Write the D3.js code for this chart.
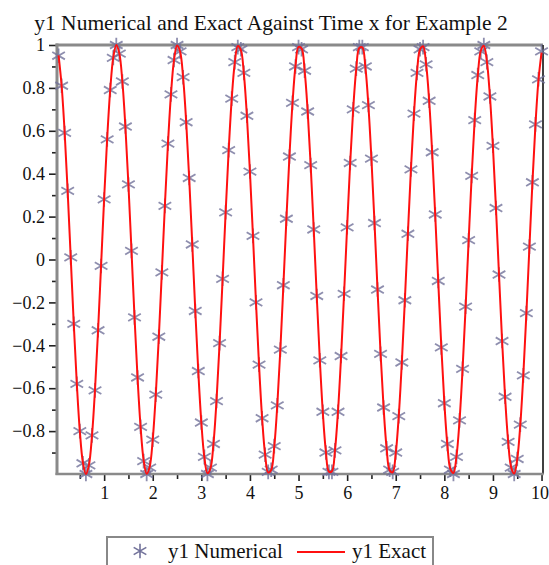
<!DOCTYPE html>
<html>
<head>
<meta charset="utf-8">
<script src="https://cdn.jsdelivr.net/npm/d3@7"></script>
<style>
body { margin: 0; background: #fff; }
svg { display: block; font-family: "Liberation Serif", "Times New Roman", serif; }
</style>
</head>
<body>
<div id="chart"></div>
<script>
// time grid of the numerical solution
var timeX = [
  0.0625,0.125,0.1875,0.25,0.3125,0.375,0.4375,0.5,0.5625,0.625,0.6875,0.75,0.8125,0.875,0.9375,1,
  1.0625,1.125,1.1875,1.25,1.3125,1.375,1.4375,1.5,1.5625,1.625,1.6875,1.75,1.8125,1.875,1.9375,2,
  2.0625,2.125,2.1875,2.25,2.3125,2.375,2.4375,2.5,2.5625,2.625,2.6875,2.75,2.8125,2.875,2.9375,3,
  3.0625,3.125,3.1875,3.25,3.3125,3.375,3.4375,3.5,3.5625,3.625,3.6875,3.75,3.8125,3.875,3.9375,4,
  4.0625,4.125,4.1875,4.25,4.3125,4.375,4.4375,4.5,4.5625,4.625,4.6875,4.75,4.8125,4.875,4.9375,5,
  5.0625,5.125,5.1875,5.25,5.3125,5.375,5.4375,5.5,5.5625,5.625,5.6875,5.75,5.8125,5.875,5.9375,6,
  6.0625,6.125,6.1875,6.25,6.3125,6.375,6.4375,6.5,6.5625,6.625,6.6875,6.75,6.8125,6.875,6.9375,7,
  7.0625,7.125,7.1875,7.25,7.3125,7.375,7.4375,7.5,7.5625,7.625,7.6875,7.75,7.8125,7.875,7.9375,8,
  8.0625,8.125,8.1875,8.25,8.3125,8.375,8.4375,8.5,8.5625,8.625,8.6875,8.75,8.8125,8.875,8.9375,9,
  9.0625,9.125,9.1875,9.25,9.3125,9.375,9.4375,9.5,9.5625,9.625,9.6875,9.75,9.8125,9.875,9.9375,10
];

var numericalY = [
  0.95,0.81,0.59,0.32,0.01,-0.30,-0.58,-0.80,-0.95,-1.00,-0.96,-0.82,-0.61,-0.33,-0.03,0.28,0.56,0.79,0.94,1.00,
  0.96,0.83,0.62,0.35,0.04,-0.27,-0.55,-0.78,-0.94,-1.00,-0.97,-0.84,-0.63,-0.36,-0.06,0.25,0.54,0.77,0.93,1.00,
  0.97,0.85,0.64,0.38,0.07,-0.24,-0.52,-0.76,-0.92,-1.00,-0.97,-0.86,-0.66,-0.39,-0.09,0.22,0.51,0.75,0.92,0.99,
  0.98,0.87,0.67,0.41,0.11,-0.20,-0.49,-0.74,-0.91,-0.99,-0.98,-0.87,-0.68,-0.42,-0.12,0.19,0.48,0.73,0.90,0.99,
  0.98,0.88,0.69,0.44,0.14,-0.17,-0.47,-0.71,-0.90,-0.99,-0.99,-0.89,-0.71,-0.45,-0.16,0.15,0.45,0.70,0.89,0.99,
  0.99,0.90,0.72,0.47,0.17,-0.14,-0.44,-0.69,-0.88,-0.98,-0.99,-0.90,-0.73,-0.48,-0.19,0.12,0.42,0.68,0.87,0.98,
  0.99,0.91,0.74,0.50,0.21,-0.10,-0.41,-0.67,-0.86,-0.98,-1.00,-0.92,-0.75,-0.51,-0.22,0.09,0.39,0.65,0.86,0.97,
  1.00,0.92,0.76,0.53,0.24,-0.07,-0.38,-0.64,-0.85,-0.97,-1.00,-0.93,-0.77,-0.54,-0.25,0.06,0.36,0.63,0.84,0.97
];

var exactY = [
  0.952,0.811,0.592,0.315,0.008,-0.300,-0.578,-0.801,-0.946,-1.000,-0.957,-0.821,-0.605,-0.331,-0.025,0.284,0.565,0.791,0.941,1.000,
  0.961,0.830,0.618,0.347,0.042,-0.268,-0.551,-0.781,-0.935,-0.999,-0.966,-0.839,-0.631,-0.362,-0.058,0.252,0.537,0.770,0.929,0.998,
  0.970,0.848,0.644,0.378,0.075,-0.236,-0.523,-0.760,-0.923,-0.997,-0.974,-0.857,-0.657,-0.393,-0.091,0.219,0.509,0.749,0.916,0.995,
  0.977,0.865,0.669,0.408,0.108,-0.203,-0.494,-0.738,-0.910,-0.993,-0.981,-0.873,-0.681,-0.423,-0.124,0.187,0.480,0.726,0.903,0.991,
  0.984,0.881,0.693,0.438,0.141,-0.171,-0.465,-0.715,-0.895,-0.989,-0.987,-0.889,-0.705,-0.453,-0.157,0.154,0.451,0.703,0.888,0.986,
  0.989,0.897,0.717,0.468,0.173,-0.138,-0.436,-0.691,-0.880,-0.983,-0.992,-0.904,-0.728,-0.482,-0.190,0.121,0.421,0.679,0.872,0.980,
  0.994,0.911,0.740,0.497,0.206,-0.105,-0.406,-0.667,-0.864,-0.977,-0.995,-0.917,-0.751,-0.511,-0.222,0.088,0.390,0.655,0.855,0.973,
  0.997,0.924,0.762,0.525,0.238,-0.072,-0.375,-0.642,-0.847,-0.969,-0.998,-0.930,-0.772,-0.539,-0.254,0.055,0.360,0.629,0.838,0.965
];

var xTicks = [1, 2, 3, 4, 5, 6, 7, 8, 9, 10];
var xMinorTicks = [0.5, 1.5, 2.5, 3.5, 4.5, 5.5, 6.5, 7.5, 8.5, 9.5];
var yTicks = [1, 0.8, 0.6, 0.4, 0.2, 0, -0.2, -0.4, -0.6, -0.8];
var yMinorTicks = [0.9, 0.7, 0.5, 0.3, 0.1, -0.1, -0.3, -0.5, -0.7, -0.9];
var seriesNames = ["y1 Numerical", "y1 Exact"];
var chartTitle = "y1 Numerical and Exact Against Time x for Example 2";

var width = 549, height = 565;
var plotLeft = 57, plotRight = 543, plotTop = 45, plotBottom = 474;

var svg = d3.select("#chart").append("svg")
    .attr("width", width)
    .attr("height", height);

var x = d3.scaleLinear().domain([0.03, 10.03]).range([plotLeft, plotRight]);
var y = d3.scaleLinear().domain([-1, 1]).range([plotBottom, plotTop]);

var starColor = "#72729a";
var star = d3.symbol(d3.symbolAsterisk, 150);

svg.append("text")
    .attr("x", 271)
    .attr("y", 30)
    .attr("text-anchor", "middle")
    .attr("font-size", 21.5)
    .attr("fill", "#111")
    .text(chartTitle);

function fmt(d) {
    return d < 0 ? "\u2212" + Math.abs(d) : String(d);
}

// y axis
var gy = svg.append("g")
    .attr("transform", "translate(" + plotLeft + ",0)")
    .call(d3.axisLeft(y).tickValues(yTicks).tickSize(8).tickFormat(fmt));
var gyMinor = svg.append("g")
    .attr("transform", "translate(" + plotLeft + ",0)")
    .call(d3.axisLeft(y).tickValues(yMinorTicks).tickSize(5).tickFormat(""));

// x axis
var gx = svg.append("g")
    .attr("transform", "translate(0," + plotBottom + ")")
    .call(d3.axisBottom(x).tickValues(xTicks).tickSize(7).tickFormat(fmt));
var gxMinor = svg.append("g")
    .attr("transform", "translate(0," + plotBottom + ")")
    .call(d3.axisBottom(x).tickValues(xMinorTicks).tickSize(5).tickFormat(""));

[gy, gyMinor, gx, gxMinor].forEach(function(g) {
    g.attr("font-family", null).attr("font-size", null);
    g.select(".domain").remove();
    g.selectAll(".tick line").attr("stroke", "#222").attr("stroke-width", 1.6);
});
gy.selectAll(".tick text")
    .attr("x", -12)
    .attr("font-size", 18)
    .attr("fill", "#111");
gx.selectAll(".tick text")
    .attr("y", 12)
    .attr("font-size", 18)
    .attr("fill", "#111");
// keep the last label inside the picture
gx.selectAll(".tick text")
    .filter(function(d) { return d === 10; })
    .attr("text-anchor", "end")
    .attr("x", 7);

// frame
svg.append("line").attr("x1", plotLeft - 1.5).attr("x2", plotRight).attr("y1", plotTop).attr("y2", plotTop)
    .attr("stroke", "#8a8a8a").attr("stroke-width", 3);
svg.append("line").attr("x1", plotRight).attr("x2", plotRight).attr("y1", plotTop).attr("y2", plotBottom)
    .attr("stroke", "#000").attr("stroke-width", 1.5);
svg.append("line").attr("x1", plotLeft).attr("x2", plotLeft).attr("y1", plotTop - 1.5).attr("y2", plotBottom + 1)
    .attr("stroke", "#8a8a8a").attr("stroke-width", 3);
svg.append("line").attr("x1", plotLeft - 1.5).attr("x2", plotRight + 0.75).attr("y1", plotBottom).attr("y2", plotBottom)
    .attr("stroke", "#8a8a8a").attr("stroke-width", 2.5);

// numerical points
svg.append("g")
    .selectAll("path")
    .data(timeX)
    .enter().append("path")
    .attr("d", star)
    .attr("transform", function(d, i) { return "translate(" + x(d) + "," + y(numericalY[i]) + ")"; })
    .attr("fill", "none")
    .attr("stroke", starColor)
    .attr("stroke-width", 1.8)
    .attr("stroke-opacity", 0.8);

// exact solution
var line = d3.line()
    .curve(d3.curveCatmullRom)
    .x(function(d) { return x(d); })
    .y(function(d, i) { return y(exactY[i]); });

svg.append("path")
    .datum(timeX)
    .attr("d", line)
    .attr("fill", "none")
    .attr("stroke", "#ff1010")
    .attr("stroke-width", 2);

// legend
var legend = svg.append("g");
legend.append("rect")
    .attr("x", 107).attr("y", 537)
    .attr("width", 326).attr("height", 40)
    .attr("fill", "none")
    .attr("stroke", "#888")
    .attr("stroke-width", 2);
legend.append("path")
    .attr("d", star)
    .attr("transform", "translate(140,551)")
    .attr("fill", "none")
    .attr("stroke", starColor)
    .attr("stroke-width", 1.6);
legend.append("text")
    .attr("x", 168).attr("y", 558)
    .attr("font-size", 21)
    .attr("fill", "#111")
    .text(seriesNames[0]);
legend.append("line")
    .attr("x1", 297).attr("x2", 345)
    .attr("y1", 552).attr("y2", 552)
    .attr("stroke", "#ff1010")
    .attr("stroke-width", 2);
legend.append("text")
    .attr("x", 352).attr("y", 558)
    .attr("font-size", 21)
    .attr("fill", "#111")
    .text(seriesNames[1]);
</script>
</body>
</html>
